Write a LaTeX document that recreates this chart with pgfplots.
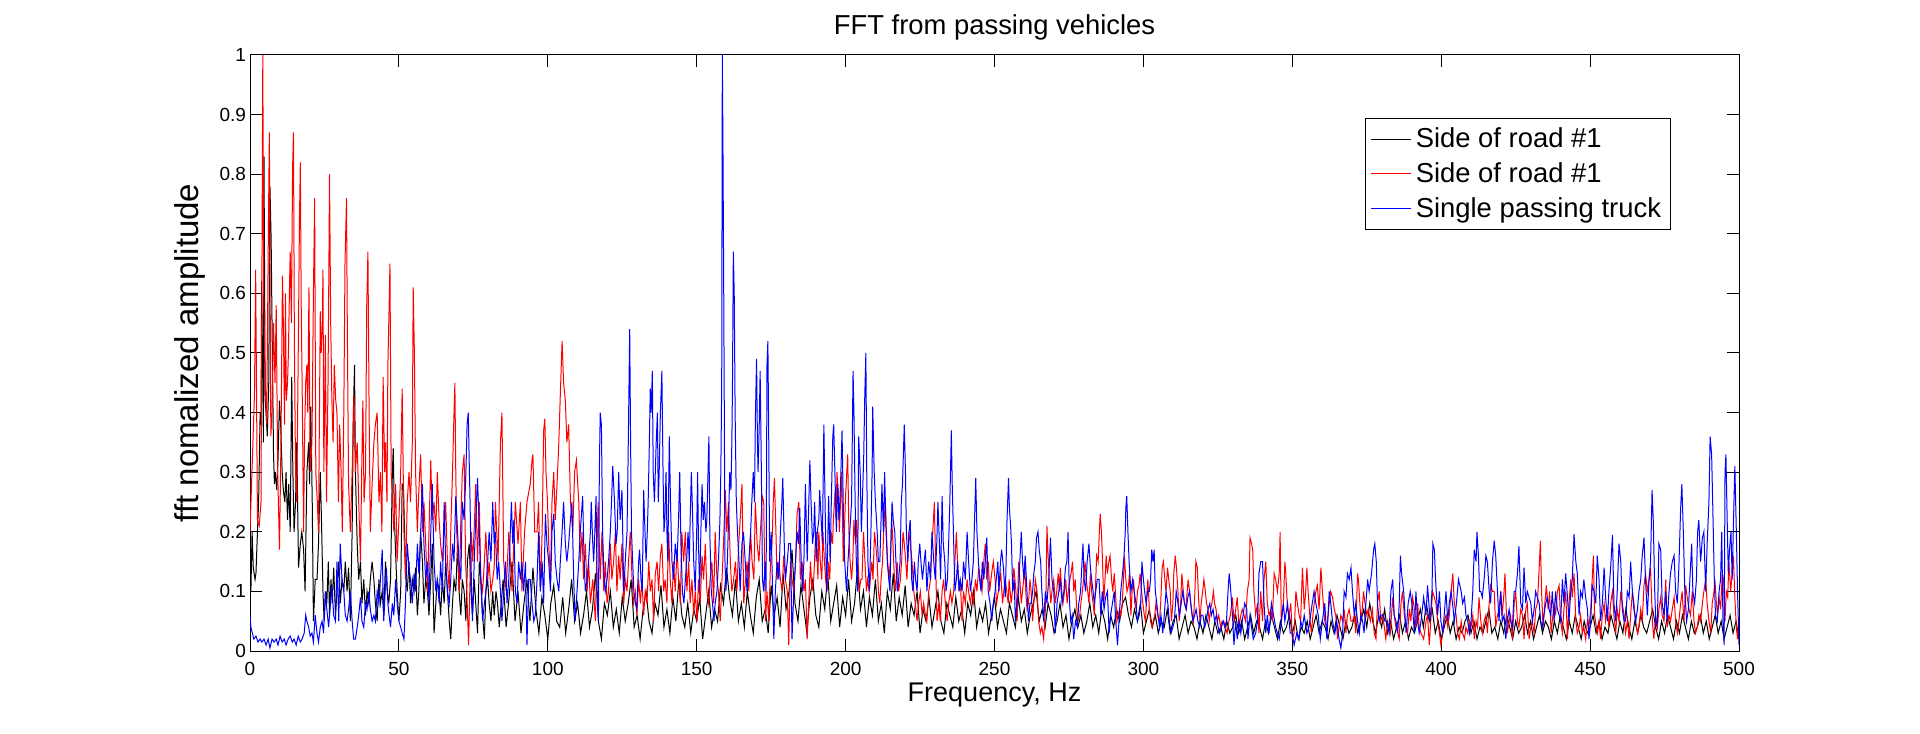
\documentclass[border=0pt]{standalone}
\usepackage{fontspec}
\setmainfont{Liberation Sans}
\usepackage{pgfplots}
\pgfplotsset{compat=1.18}
\begin{document}
\begin{tikzpicture}
\useasboundingbox (-125pt,-41pt) rectangle (835pt,325.5pt);
\begin{axis}[
  at={(0,0)}, anchor=south west,
  scale only axis, width=744.5pt, height=298pt,
  xmin=0, xmax=500, ymin=0, ymax=1,
  xtick={0,50,100,150,200,250,300,350,400,450,500},
  ytick={0,0.1,0.2,0.3,0.4,0.5,0.6,0.7,0.8,0.9,1},
  yticklabels={0,0.1,0.2,0.3,0.4,0.5,0.6,0.7,0.8,0.9,1},
  tick pos=both, tick align=inside, major tick length=6pt,
  every tick/.style={black, line width=0.5pt},
  axis line style={line width=0.5pt},
  /pgf/number format/assume math mode=true,
  ticklabel style={font=\fontsize{9.5}{11}\selectfont},
  xticklabel style={yshift=-2pt},
  yticklabel style={xshift=1.5pt},
  every axis title shift=0pt,
  title={FFT from passing vehicles},
  title style={at={(0.5,1.047)}, anchor=center, font=\fontsize{13.7}{15}\selectfont},
  xlabel={Frequency, Hz},
  xlabel style={at={(0.5,-0.0738)}, anchor=center, font=\fontsize{13.5}{15}\selectfont},
  ylabel={fft nomalized amplitude},
  ylabel style={at={(-0.0403,0.5)}, anchor=center, font=\fontsize{16.5}{18}\selectfont},
  legend style={at={(0.954,0.894)}, anchor=north east, draw=black, line width=0.5pt,
    font=\fontsize{13.7}{16}\selectfont, row sep=2pt, inner sep=2.5pt},
  legend cell align=left,
  legend image code/.code={\draw[#1] (0cm,0cm) -- (0.7cm,0cm);},
  every axis plot/.append style={line width=0.5pt},
]
% Side of road #1 (black)
\addplot[black] coordinates {
(0,0.18)(0.3,0.10)(0.7,0.20)(1.1,0.14)(1.7,0.12)(2.0,0.13)(2.5,0.20)(2.9,0.25)(3.4,0.40)(3.7,0.38)(3.9,0.62)(4.3,0.45)(4.5,0.35)(4.7,0.83)(5.1,0.42)(5.4,0.40)(5.8,0.36)(6.3,0.45)(6.7,0.78)(7.1,0.69)(7.4,0.55)(7.9,0.33)(8.2,0.28)(8.5,0.30)(9.0,0.27)(9.4,0.32)(9.9,0.42)(10.3,0.38)(10.8,0.30)(11.2,0.27)(11.7,0.25)(12.1,0.30)(12.6,0.22)(13.0,0.28)(13.5,0.20)(14.0,0.46)(14.4,0.30)(14.8,0.20)(15.3,0.25)(15.7,0.35)(16.3,0.14)(16.9,0.18)(17.4,0.20)(18.0,0.17)(18.5,0.10)(19.1,0.30)(19.7,0.35)(20.0,0.28)(20.4,0.41)(20.9,0.25)(21.3,0.05)(21.9,0.12)(22.5,0.12)(23.0,0.18)(23.6,0.30)(24.0,0.22)(24.5,0.10)(24.9,0.05)(25.4,0.10)(25.8,0.08)(26.3,0.15)(26.7,0.06)(27.2,0.12)(27.6,0.08)(28.1,0.14)(28.7,0.06)(29.2,0.10)(29.8,0.15)(30.3,0.08)(30.9,0.12)(31.5,0.10)(32.0,0.15)(32.6,0.10)(33.1,0.14)(33.7,0.05)(34.3,0.20)(34.7,0.40)(35.1,0.48)(35.4,0.30)(36.0,0.18)(36.5,0.12)(37.1,0.15)(37.6,0.08)(38.2,0.12)(38.8,0.06)(39.3,0.10)(39.9,0.08)(40.4,0.12)(41.0,0.15)(41.6,0.12)(42.1,0.08)(42.7,0.05)(43.3,0.12)(43.8,0.08)(44.4,0.10)(44.9,0.06)(45.5,0.15)(46.1,0.10)(46.6,0.08)(47.2,0.12)(47.8,0.30)(48.1,0.34)(48.5,0.22)(49.0,0.15)(49.4,0.10)(50.0,0.05)(50.6,0.10)(51.1,0.28)(51.5,0.28)(51.9,0.20)(52.4,0.12)(52.8,0.10)(53.4,0.15)(53.9,0.08)(54.5,0.12)(55.1,0.10)(55.6,0.14)(56.2,0.06)(56.7,0.10)(57.3,0.20)(57.9,0.15)(58.4,0.08)(59.0,0.12)(59.6,0.10)(60.1,0.06)(60.7,0.12)(61.2,0.18)(61.8,0.03)(62.4,0.08)(62.9,0.12)(63.5,0.10)(64.0,0.06)(64.6,0.12)(65.2,0.08)(65.7,0.15)(66.3,0.10)(66.9,0.05)(67.4,0.02)(68.0,0.08)(68.5,0.12)(69.1,0.10)(69.7,0.18)(70.2,0.10)(70.8,0.06)(71.3,0.12)(71.9,0.10)(72.5,0.05)(73.0,0.15)(73.6,0.18)(74.2,0.10)(74.7,0.06)(75.3,0.12)(75.8,0.08)(76.4,0.03)(77.0,0.15)(77.5,0.12)(78.1,0.06)(78.7,0.02)(79.2,0.10)(79.8,0.12)(80.3,0.08)(80.9,0.05)(81.5,0.10)(82.0,0.06)(82.6,0.10)(83.1,0.08)(83.7,0.04)
(85,0.12)(86,0.04)(87,0.09)(88,0.15)(89,0.05)(90,0.10)(91,0.03)(92,0.08)(93,0.12)(94,0.05)(95,0.14)(96,0.07)(97,0.03)(98,0.09)(99,0.06)(100,0.02)(101,0.08)(102,0.11)(103,0.05)(104,0.04)(105,0.09)(106,0.03)(107,0.07)(108,0.12)(109,0.05)(110,0.08)(111,0.03)(112,0.06)(113,0.10)(114,0.04)(115,0.07)(116,0.13)(117,0.05)(118,0.02)(119,0.08)(120,0.06)(121,0.10)(122,0.04)(123,0.07)(124,0.03)(125,0.09)(126,0.05)(127,0.08)(128,0.12)(129,0.04)(130,0.06)(131,0.02)(132,0.07)(133,0.10)(134,0.05)(135,0.03)(136,0.08)(137,0.06)(138,0.11)(139,0.04)(140,0.07)(141,0.03)(142,0.09)(143,0.05)(144,0.12)(145,0.06)(146,0.04)(147,0.08)(148,0.03)(149,0.07)(150,0.05)(151,0.09)(152,0.02)(153,0.06)(154,0.10)(155,0.04)(156,0.07)(157,0.05)(158,0.11)(159,0.08)(160,0.14)(161,0.09)(162,0.06)(163,0.12)(164,0.05)(165,0.08)(166,0.04)(167,0.10)(168,0.06)(169,0.03)(170,0.09)(171,0.12)(172,0.05)(173,0.07)(174,0.03)(175,0.11)(176,0.06)(177,0.09)(178,0.04)(179,0.13)(180,0.07)(181,0.10)(182,0.17)(183,0.08)(184,0.05)(185,0.11)(186,0.07)(187,0.03)(188,0.09)(189,0.12)(190,0.06)(191,0.04)(192,0.10)(193,0.07)(194,0.13)(195,0.05)(196,0.08)(197,0.11)(198,0.04)(199,0.09)(200,0.06)(201,0.12)(202,0.05)(203,0.08)(204,0.14)(205,0.07)(206,0.10)(207,0.04)(208,0.09)(209,0.06)(210,0.12)(211,0.05)(212,0.08)(213,0.03)(214,0.10)(215,0.07)(216,0.13)(217,0.05)(218,0.09)(219,0.06)(220,0.11)(221,0.04)(222,0.08)(223,0.06)(224,0.10)(225,0.03)(226,0.07)(227,0.05)(228,0.09)(229,0.04)(230,0.07)(231,0.10)(232,0.05)(233,0.03)(234,0.08)(235,0.06)(236,0.04)(237,0.09)(238,0.05)(239,0.07)(240,0.03)(241,0.08)(242,0.06)(243,0.10)(244,0.04)(245,0.07)(246,0.05)(247,0.08)(248,0.03)(249,0.06)(250,0.09)(251,0.04)(252,0.07)(253,0.05)(254,0.03)(255,0.08)(256,0.06)(257,0.04)(258,0.09)(259,0.05)(260,0.07)(261,0.03)(262,0.06)(263,0.08)(264,0.10)(265,0.05)(266,0.07)(267,0.04)(268,0.08)(269,0.06)(270,0.03)(271,0.05)(272,0.08)(273,0.04)(274,0.06)(275,0.02)(276,0.05)(277,0.07)(278,0.04)(279,0.06)(280,0.03)(281,0.05)(282,0.08)(283,0.04)(284,0.06)(285,0.03)(286,0.07)(287,0.05)(288,0.02)(289,0.06)(290,0.04)(291,0.07)(292,0.05)(293,0.08)(294,0.09)(295,0.06)(296,0.04)(297,0.07)(298,0.05)(299,0.08)(300,0.03)(301,0.05)(302,0.07)(303,0.04)(304,0.06)(305,0.03)(306,0.05)(307,0.04)(308,0.07)(309,0.03)(310,0.05)(311,0.06)(312,0.02)(313,0.04)(314,0.06)(315,0.03)(316,0.05)(317,0.04)(318,0.02)(319,0.05)(320,0.03)(321,0.06)(322,0.04)(323,0.02)(324,0.05)(325,0.03)(326,0.04)(327,0.02)(328,0.05)(329,0.03)(330,0.04)(331,0.06)(332,0.03)(333,0.05)(334,0.02)(335,0.04)(336,0.06)(337,0.03)(338,0.05)(339,0.04)(340,0.02)(341,0.05)(342,0.03)(343,0.06)(344,0.04)(345,0.02)(346,0.05)(347,0.03)(348,0.04)(349,0.06)(350,0.03)(351,0.05)(352,0.02)(353,0.04)(354,0.03)(355,0.05)(356,0.02)(357,0.04)(358,0.06)(359,0.03)(360,0.05)(361,0.04)(362,0.02)(363,0.05)(364,0.03)(365,0.06)(366,0.04)(367,0.02)(368,0.05)(369,0.03)(370,0.04)(371,0.06)(372,0.03)(373,0.05)(374,0.07)(375,0.04)(376,0.08)(377,0.05)(378,0.03)(379,0.06)(380,0.04)(381,0.07)(382,0.03)(383,0.05)(384,0.02)(385,0.04)(386,0.06)(387,0.03)(388,0.05)(389,0.02)(390,0.04)(391,0.03)(392,0.05)(393,0.07)(394,0.04)(395,0.08)(396,0.05)(397,0.07)(398,0.03)(399,0.05)(400,0.02)(401,0.04)(402,0.06)(403,0.03)(404,0.05)(405,0.02)(406,0.04)(407,0.03)(408,0.05)(409,0.06)(410,0.03)(411,0.05)(412,0.02)(413,0.04)(414,0.03)(415,0.05)(416,0.07)(417,0.03)(418,0.04)(419,0.02)(420,0.05)(421,0.03)(422,0.06)(423,0.04)(424,0.02)(425,0.05)(426,0.03)(427,0.04)(428,0.06)(429,0.03)(430,0.05)(431,0.02)(432,0.04)(433,0.06)(434,0.03)(435,0.05)(436,0.04)(437,0.02)(438,0.05)(439,0.03)(440,0.06)(441,0.04)(442,0.02)(443,0.05)(444,0.03)(445,0.06)(446,0.04)(447,0.02)(448,0.05)(449,0.03)(450,0.04)(451,0.06)(452,0.03)(453,0.05)(454,0.02)(455,0.04)(456,0.03)(457,0.06)(458,0.04)(459,0.02)(460,0.05)(461,0.03)(462,0.07)(463,0.04)(464,0.02)(465,0.05)(466,0.03)(467,0.06)(468,0.04)(469,0.03)(470,0.05)(471,0.07)(472,0.04)(473,0.02)(474,0.05)(475,0.03)(476,0.06)(477,0.04)(478,0.02)(479,0.05)(480,0.03)(481,0.06)(482,0.04)(483,0.02)(484,0.05)(485,0.03)(486,0.04)(487,0.06)(488,0.03)(489,0.05)(490,0.02)(491,0.04)(492,0.06)(493,0.03)(494,0.05)(495,0.02)(496,0.04)(497,0.06)(498,0.03)(499,0.05)(500,0.02)
};
\addlegendentry{Side of road \#1}
% Side of road #1 (red)
\addplot[red] coordinates {
(0,0.20)(1.5,0.43)(1.9,0.64)(2.5,0.22)(3.1,0.21)(3.7,0.25)(3.9,0.50)(4.3,1.00)(4.6,0.60)(5.1,0.45)(5.6,0.38)(6.2,0.72)(6.5,0.87)(7.0,0.36)(7.4,0.40)(7.9,0.55)(8.4,0.45)(8.8,0.58)(9.3,0.30)(9.9,0.17)(10.4,0.35)(10.9,0.63)(11.2,0.55)(11.6,0.38)(11.9,0.60)(12.2,0.42)(12.6,0.45)(12.9,0.50)(13.3,0.62)(13.5,0.67)(13.9,0.55)(14.3,0.81)(14.6,0.87)(14.9,0.52)(15.3,0.30)(15.7,0.25)(16.3,0.55)(16.6,0.72)(16.9,0.82)(17.2,0.58)(17.5,0.45)(18.0,0.20)(18.3,0.35)(18.7,0.45)(19.1,0.48)(19.4,0.40)(19.8,0.61)(20.2,0.30)(20.8,0.35)(21.3,0.60)(21.7,0.76)(22.1,0.30)(22.6,0.25)(23.0,0.20)(23.6,0.57)(23.9,0.50)(24.3,0.55)(24.5,0.64)(24.8,0.30)(25.3,0.53)(25.7,0.25)(26.2,0.45)(26.5,0.65)(26.7,0.80)(27.1,0.55)(27.5,0.42)(27.9,0.35)(28.3,0.48)(28.8,0.42)(29.2,0.40)(29.7,0.25)(30.1,0.38)(30.6,0.30)(31.0,0.20)(31.5,0.40)(31.9,0.65)(32.4,0.76)(32.7,0.53)(33.1,0.28)(33.7,0.20)(34.3,0.30)(34.9,0.43)(35.4,0.30)(36.0,0.35)(36.5,0.25)(37.1,0.15)(37.5,0.30)(37.9,0.42)(38.3,0.25)(38.8,0.30)(39.2,0.58)(39.6,0.67)(40.0,0.40)(40.4,0.20)(41.0,0.28)(41.6,0.35)(42.1,0.38)(42.7,0.40)(43.3,0.25)(43.8,0.30)(44.3,0.20)(44.7,0.46)(45.2,0.30)(45.5,0.35)(46.0,0.25)(46.3,0.48)(46.6,0.55)(47.0,0.65)(47.4,0.30)(47.9,0.25)(48.3,0.20)(48.9,0.28)(49.4,0.15)(50.0,0.22)(50.6,0.30)(51.1,0.44)(51.7,0.20)(52.2,0.12)(52.8,0.25)(53.4,0.30)(53.9,0.25)(54.5,0.35)(54.8,0.61)(55.2,0.50)(55.6,0.30)(56.2,0.20)(56.7,0.27)(57.3,0.33)(57.9,0.20)(58.4,0.25)(59.0,0.18)(59.6,0.10)(60.1,0.20)(60.7,0.32)(61.2,0.22)(61.8,0.25)(62.4,0.20)(62.9,0.30)(63.5,0.22)(64.0,0.18)(64.6,0.15)(65.2,0.20)(65.7,0.25)(66.3,0.15)(66.9,0.10)(67.4,0.20)(68.0,0.30)(68.4,0.38)(68.8,0.45)(69.1,0.30)(69.4,0.20)(69.9,0.15)(70.3,0.10)(70.8,0.22)(71.3,0.30)(71.9,0.33)(72.4,0.15)(72.8,0.10)(73.4,0.01)(73.8,0.10)(74.3,0.20)(74.8,0.15)(75.4,0.22)(75.8,0.28)(76.4,0.15)(77.0,0.25)(77.5,0.12)(78.1,0.10)(78.7,0.15)(79.2,0.20)(79.8,0.12)(80.3,0.15)(80.9,0.10)(81.5,0.12)(82.0,0.14)
(82.4,0.25)(83.3,0.15)(84.1,0.35)(84.6,0.40)(85.2,0.15)(86.0,0.10)(86.9,0.20)(88.0,0.10)(89.1,0.25)(90.0,0.18)(90.8,0.25)(91.3,0.10)(92.2,0.20)(93.0,0.25)(94.1,0.28)(94.7,0.32)(95.0,0.33)(95.6,0.20)(96.4,0.20)(96.9,0.25)(97.5,0.10)(98.1,0.20)(98.6,0.37)(99.0,0.39)(99.4,0.30)(99.9,0.25)(100.3,0.18)(100.9,0.12)(101.4,0.25)(102.0,0.30)(102.5,0.22)(103.1,0.28)(103.7,0.35)(104.2,0.43)(104.8,0.52)(105.3,0.45)(105.9,0.42)(106.4,0.35)(107.0,0.38)(107.6,0.25)(108.4,0.20)(109.0,0.30)(109.6,0.32)(110.4,0.25)(110.9,0.15)(111.5,0.20)(112.0,0.12)(112.6,0.18)(113.2,0.10)(113.7,0.15)(114.3,0.08)(115.1,0.12)(116.0,0.05)(116.4,0.15)(116.9,0.25)(117.6,0.12)(118.2,0.20)(118.8,0.10)(119.3,0.15)(119.9,0.08)(120.4,0.10)(121.0,0.18)(121.5,0.12)(122.1,0.15)(122.7,0.20)(123.2,0.10)(123.8,0.16)(124.3,0.12)(124.9,0.18)(125.5,0.08)(126.0,0.12)(126.6,0.10)(127.1,0.15)(127.7,0.20)(128.3,0.12)(128.8,0.08)(129.4,0.10)(129.9,0.06)(130.5,0.12)(131.1,0.08)(131.6,0.12)(132.2,0.06)(132.7,0.10)(133.3,0.08)(133.9,0.15)(134.4,0.10)(135.0,0.12)(135.5,0.05)(136.1,0.13)(136.7,0.15)(137.2,0.10)(137.8,0.16)(138.3,0.18)(138.9,0.10)(139.4,0.12)(140.0,0.08)(140.6,0.20)(141.1,0.12)(141.7,0.08)(142.2,0.15)(142.8,0.10)(143.4,0.17)(143.9,0.12)(144.5,0.08)(145.0,0.20)(145.6,0.15)(146.2,0.20)(146.7,0.10)(147.3,0.15)(147.8,0.08)(148.4,0.12)(149.0,0.06)(149.5,0.10)(150.1,0.05)(150.6,0.12)(151.2,0.08)(151.8,0.16)(152.3,0.12)(152.9,0.18)(153.4,0.10)(154.0,0.08)(154.5,0.12)(155.1,0.15)(155.7,0.08)(156.2,0.20)(156.8,0.12)(157.3,0.10)(157.9,0.05)(158.5,0.12)(159.0,0.18)(159.6,0.27)(160.1,0.20)(160.7,0.25)(161.3,0.15)(161.8,0.10)(162.4,0.12)(163.0,0.15)(163.5,0.10)(164.1,0.18)(164.6,0.22)(165.2,0.28)
(165.8,0.08)(166.4,0.12)(166.9,0.15)(167.5,0.10)(168.1,0.20)(168.6,0.15)(169.2,0.12)(169.7,0.25)(170.3,0.18)(170.9,0.15)(171.4,0.20)(172.0,0.26)(172.5,0.25)(173.1,0.05)(173.6,0.10)(174.2,0.05)(174.8,0.15)(175.3,0.18)(175.7,0.25)(176.1,0.29)(176.6,0.20)(177.0,0.12)(177.6,0.15)(178.1,0.12)(178.7,0.10)(179.2,0.16)(179.8,0.12)(180.4,0.10)(180.9,0.01)(181.5,0.15)(182.0,0.12)(182.6,0.10)(183.2,0.15)(183.7,0.23)(184.3,0.25)(184.8,0.12)(185.4,0.15)(186.0,0.10)(186.5,0.12)(187.1,0.02)(187.6,0.08)(188.2,0.15)(188.7,0.10)(189.3,0.12)(189.8,0.18)(190.2,0.20)(190.7,0.12)(191.0,0.20)(191.5,0.15)(192.0,0.12)(192.4,0.20)(192.9,0.15)(193.3,0.12)(193.8,0.10)(194.2,0.15)(194.7,0.12)(195.1,0.20)(195.6,0.18)(195.9,0.22)(196.5,0.27)(196.8,0.22)(197.1,0.30)(197.5,0.26)(197.9,0.20)(198.3,0.25)(198.7,0.30)(199.2,0.15)(199.6,0.20)(199.9,0.25)(200.3,0.29)(200.7,0.33)(201.1,0.20)(201.5,0.15)(202.0,0.12)(202.4,0.15)(202.8,0.22)(203.3,0.18)(203.7,0.22)(204.2,0.15)(204.6,0.10)(205.1,0.12)(205.5,0.12)(206.0,0.20)(206.5,0.15)(207.0,0.10)(207.4,0.12)(207.9,0.10)(208.3,0.12)(208.8,0.15)(209.2,0.12)(209.7,0.20)(210.1,0.18)(210.6,0.15)(211.0,0.10)(211.5,0.08)(211.9,0.12)(212.4,0.15)(212.8,0.20)(213.3,0.25)(213.7,0.20)(214.1,0.15)(214.6,0.12)(215.0,0.15)(215.5,0.22)(215.9,0.18)(216.4,0.12)(216.8,0.10)(217.3,0.15)(217.8,0.10)(218.4,0.12)(218.8,0.15)(219.3,0.20)(219.7,0.18)(220.2,0.15)(220.6,0.12)(221.2,0.20)(221.7,0.18)(222.3,0.15)(222.9,0.10)(223.4,0.08)(224.0,0.05)(224.5,0.08)(225.1,0.10)(225.7,0.06)(226.2,0.08)(226.8,0.06)(227.3,0.05)(227.9,0.10)(228.5,0.12)(229.0,0.18)(229.5,0.22)(229.8,0.25)(230.2,0.15)(230.7,0.05)(231.3,0.08)(231.8,0.05)(232.4,0.10)(232.9,0.12)(233.5,0.08)(234.1,0.05)(234.6,0.08)(235.2,0.10)(235.7,0.08)(236.3,0.10)(236.7,0.15)(237.2,0.20)(237.6,0.15)(238.1,0.10)(238.5,0.12)(239.1,0.05)(239.6,0.10)(240.2,0.08)(240.8,0.12)(241.3,0.10)(241.9,0.08)(242.4,0.10)(243.0,0.08)(243.6,0.12)(244.1,0.10)(244.7,0.14)(245.2,0.12)(245.8,0.10)(246.4,0.15)(246.9,0.18)
(247.4,0.12)(247.9,0.15)(248.4,0.10)(248.8,0.12)(249.3,0.14)(249.6,0.15)(250.2,0.12)(250.7,0.08)(251.3,0.10)(251.8,0.12)(252.1,0.13)(252.7,0.08)(253.1,0.10)(253.6,0.12)(254.1,0.10)(254.6,0.08)(254.9,0.12)(255.6,0.08)(256.0,0.10)(256.5,0.14)(257.2,0.10)(257.6,0.05)(258.1,0.15)(258.5,0.12)(259.0,0.08)(259.4,0.10)(259.8,0.12)(260.1,0.15)(260.5,0.10)(260.9,0.07)(261.4,0.08)(261.9,0.12)(262.3,0.10)(262.8,0.05)(263.2,0.08)(263.7,0.12)(264.3,0.10)(264.8,0.05)(265.4,0.03)(265.9,0.04)(266.5,0.02)(267.0,0.06)(267.3,0.10)(267.6,0.21)(268.0,0.16)(268.4,0.12)(268.9,0.08)(269.3,0.10)(269.9,0.12)(270.4,0.08)(270.9,0.10)(271.4,0.13)(271.8,0.10)(272.1,0.14)(272.6,0.10)(273.0,0.08)(273.5,0.10)(273.9,0.12)(274.4,0.08)(274.8,0.10)(275.3,0.12)(275.7,0.13)(276.2,0.15)(276.6,0.10)(277.1,0.12)(277.5,0.08)(278.0,0.05)(278.6,0.06)(279.0,0.08)(279.5,0.10)(279.9,0.12)(280.4,0.15)(280.8,0.12)(281.3,0.10)(281.7,0.08)(282.2,0.13)(282.6,0.10)(283.1,0.08)(283.5,0.06)(284.0,0.12)(284.3,0.16)(284.8,0.15)(285.2,0.20)(285.5,0.23)(285.9,0.20)(286.2,0.16)(286.7,0.08)(287.1,0.12)(287.5,0.16)(287.9,0.13)(288.4,0.15)(288.8,0.16)(289.3,0.12)(289.7,0.10)(290.2,0.13)(290.6,0.10)(291.1,0.05)(291.5,0.06)(292.0,0.07)(292.4,0.06)(292.9,0.08)(293.3,0.12)(293.6,0.16)(294.1,0.12)(294.5,0.10)(295.0,0.11)(295.3,0.13)(295.8,0.06)(296.2,0.10)(296.7,0.12)(297.1,0.08)(297.6,0.07)(298.0,0.10)(298.5,0.11)(298.9,0.13)(299.4,0.10)(299.8,0.08)(300.3,0.06)(300.7,0.05)(301.2,0.10)(301.5,0.12)(302.0,0.07)(302.4,0.05)(302.9,0.04)(303.3,0.05)(303.8,0.06)(304.2,0.08)(304.8,0.06)(305.4,0.05)(305.8,0.08)(306.3,0.14)(306.7,0.15)(307.2,0.12)(307.6,0.10)(308.1,0.14)(308.5,0.12)(309.0,0.10)(309.4,0.05)(309.9,0.08)(310.2,0.13)(310.7,0.16)(311.1,0.14)(311.6,0.10)(312.0,0.05)(312.5,0.08)(312.9,0.13)(313.4,0.10)(313.8,0.08)(314.3,0.07)(314.7,0.10)(315.0,0.12)(315.5,0.10)(315.9,0.08)(316.4,0.06)(316.8,0.05)(317.3,0.10)(317.6,0.15)(318.1,0.14)(318.5,0.09)(319.0,0.05)(319.4,0.08)(319.9,0.10)(320.3,0.12)(320.8,0.10)(321.2,0.08)(321.7,0.07)(322.1,0.05)(322.6,0.07)(323.0,0.08)(323.5,0.10)(323.9,0.08)(324.4,0.07)(324.8,0.05)(325.3,0.06)(325.9,0.04)(326.4,0.05)(327.0,0.05)(327.5,0.04)(328.1,0.03)(328.7,0.05)(329.2,0.06)
(329.9,0.09)(330.4,0.05)(331.0,0.07)(331.5,0.09)(332.1,0.04)(332.7,0.06)(333.2,0.07)(333.8,0.06)(334.3,0.05)(334.9,0.10)(335.5,0.12)(335.8,0.19)(336.3,0.18)(336.7,0.17)(337.1,0.10)(337.7,0.06)(338.3,0.08)(338.8,0.03)(339.4,0.10)(340.0,0.05)(340.5,0.12)(341.1,0.15)(341.6,0.08)(342.2,0.06)(342.8,0.07)(343.3,0.05)(343.9,0.13)(344.4,0.12)(345.0,0.10)(345.6,0.13)(345.9,0.20)(346.3,0.05)(347.0,0.08)(347.5,0.15)(347.8,0.13)(348.4,0.07)(348.9,0.06)(349.5,0.08)(350.0,0.02)(350.6,0.03)(351.2,0.10)(351.7,0.08)(352.3,0.06)(352.8,0.05)(353.4,0.14)(354.0,0.07)(354.5,0.10)(354.9,0.14)(355.3,0.10)(356.0,0.05)(356.4,0.03)(357.1,0.07)(357.9,0.10)(358.4,0.11)(359.0,0.07)(359.6,0.14)(360.1,0.10)(360.9,0.05)(361.6,0.04)(362.4,0.08)(362.9,0.10)(363.5,0.09)(364.1,0.07)(364.6,0.06)(365.2,0.02)(365.7,0.04)(366.3,0.06)(366.9,0.05)(367.4,0.07)(368.0,0.03)(368.5,0.06)(369.1,0.07)(369.7,0.05)(370.2,0.05)(370.8,0.06)(371.3,0.03)(371.9,0.13)(372.2,0.12)(372.8,0.07)(373.2,0.05)(373.9,0.10)(374.4,0.08)(375.0,0.06)(375.5,0.07)(376.2,0.05)(376.9,0.07)(377.5,0.03)(378.1,0.02)(378.6,0.08)(379.2,0.10)(379.7,0.05)(380.3,0.06)(380.9,0.04)(381.4,0.02)(382.0,0.05)(382.9,0.03)(383.7,0.09)(384.2,0.06)(384.8,0.04)(385.4,0.03)(385.9,0.02)(386.5,0.08)(387.0,0.10)(387.6,0.06)(388.2,0.04)(388.7,0.03)(389.3,0.07)(389.8,0.05)(390.4,0.09)(391.0,0.07)(391.5,0.04)(392.1,0.08)(392.6,0.04)(393.2,0.03)(394.1,0.02)(394.9,0.05)(395.4,0.06)(396.0,0.01)(396.6,0.06)(397.1,0.10)(397.7,0.09)(398.2,0.08)(398.8,0.05)(399.4,0.03)(399.9,0.01)(400.5,0.03)(401.0,0.05)(401.6,0.06)(402.2,0.04)(402.7,0.06)(403.3,0.10)(403.9,0.13)(404.4,0.08)(405.0,0.06)(405.5,0.03)(406.1,0.02)(406.7,0.05)(407.2,0.03)(407.8,0.02)(408.3,0.04)(408.9,0.03)(409.5,0.05)(410.0,0.04)(410.6,0.06)(411.1,0.02)(411.7,0.05)
(412.2,0.04)(412.7,0.09)(413.3,0.05)(413.8,0.03)(414.4,0.05)(415.0,0.06)(415.5,0.03)(416.1,0.08)(416.6,0.11)(417.2,0.10)(417.8,0.10)(418.3,0.04)(418.9,0.06)(419.4,0.07)(420.0,0.10)(420.5,0.06)(421.1,0.10)(421.4,0.13)(421.9,0.06)(422.2,0.03)(422.8,0.05)(423.3,0.06)(423.9,0.02)(424.5,0.08)(425.0,0.10)(425.6,0.05)(426.1,0.04)(426.7,0.07)(427.3,0.06)(427.8,0.02)(428.4,0.07)(428.9,0.08)(429.5,0.02)(430.1,0.04)(430.6,0.05)(431.2,0.03)(431.7,0.07)(432.3,0.08)(432.9,0.14)(433.3,0.185)(433.7,0.10)(434.2,0.04)(434.8,0.08)(435.3,0.11)(435.9,0.07)(436.4,0.10)(436.9,0.03)(437.3,0.05)(437.9,0.08)(438.4,0.06)(439.0,0.10)(439.6,0.11)(440.1,0.05)(440.7,0.03)(441.2,0.07)(441.8,0.10)(442.4,0.02)(442.9,0.08)(443.5,0.12)(444.0,0.09)(444.6,0.13)(445.2,0.05)(445.7,0.03)(446.3,0.04)(446.8,0.06)(447.4,0.03)(447.9,0.04)(448.5,0.02)(449.1,0.05)(449.6,0.04)(450.2,0.07)(450.7,0.12)(451.1,0.16)(451.5,0.06)(452.1,0.04)(452.5,0.03)(453.0,0.05)(453.5,0.02)(454.1,0.06)(454.7,0.08)(455.2,0.05)(455.8,0.07)(456.3,0.04)(456.9,0.08)(457.5,0.10)(458.0,0.06)(458.6,0.03)(459.1,0.07)(459.7,0.05)(460.3,0.10)(460.8,0.08)(461.4,0.06)(461.9,0.03)(462.5,0.05)(463.1,0.02)(463.6,0.06)(464.2,0.10)(464.7,0.08)(465.3,0.05)(465.9,0.03)(466.4,0.04)(467.0,0.07)(467.5,0.05)(468.1,0.11)(468.6,0.13)(469.2,0.10)(469.8,0.12)(470.3,0.14)(470.9,0.05)(471.4,0.02)(472.0,0.06)(472.6,0.04)(473.1,0.07)(473.7,0.09)(474.2,0.06)(474.8,0.05)(475.4,0.12)(475.9,0.04)(476.5,0.06)(477.0,0.05)(477.6,0.07)(478.2,0.09)(478.7,0.05)(479.3,0.03)(479.8,0.05)(480.4,0.08)(480.9,0.10)(481.5,0.05)(482.1,0.11)(482.6,0.09)(483.2,0.07)(483.7,0.06)(484.3,0.10)(484.9,0.05)(485.4,0.03)(486.0,0.04)(486.5,0.06)(487.1,0.05)(487.7,0.08)(488.2,0.10)(488.8,0.12)(489.3,0.08)(489.9,0.05)(490.5,0.03)(491.0,0.08)(491.6,0.10)(491.9,0.12)(492.4,0.08)(492.8,0.06)(493.3,0.09)(493.8,0.07)(494.4,0.13)(494.8,0.12)(495.3,0.05)(495.7,0.10)(496.2,0.09)(496.6,0.15)(497.2,0.10)(497.7,0.13)(498.1,0.16)(498.6,0.09)(499.1,0.04)(499.5,0.02)(500.0,0.05)
};
\addlegendentry{Side of road \#1}
% Single passing truck (blue)
\addplot[blue] coordinates {
(0,0.06)(0.3,0.04)(0.8,0.03)(1.3,0.02)(2.0,0.025)(2.7,0.015)(3.4,0.02)(4.0,0.015)(4.7,0.02)(5.4,0.01)(6.1,0.02)(6.7,0.005)(7.4,0.02)(8.1,0.015)(8.8,0.02)(9.4,0.01)(10.1,0.025)(10.8,0.015)(11.5,0.02)(12.1,0.01)(12.8,0.02)(13.5,0.025)(14.2,0.015)(14.8,0.02)(15.5,0.01)(16.2,0.025)(16.9,0.015)(17.5,0.02)(18.2,0.03)(18.7,0.06)(19.1,0.05)(19.7,0.04)(20.2,0.025)(20.8,0.03)(21.3,0.015)(21.9,0.06)(22.5,0.03)(23.0,0.015)(23.6,0.04)(24.2,0.05)(24.7,0.03)(25.3,0.10)(25.8,0.07)(26.4,0.04)(27.0,0.08)(27.5,0.11)(28.1,0.06)(28.7,0.05)(29.2,0.15)(29.8,0.05)(30.3,0.18)(30.9,0.12)(31.5,0.10)(32.0,0.06)(32.6,0.05)(33.1,0.07)(33.7,0.10)(34.3,0.05)(34.8,0.02)(35.4,0.02)(36.0,0.04)(36.5,0.06)(37.1,0.09)(37.6,0.05)(38.2,0.04)(38.8,0.08)(39.3,0.07)(39.9,0.10)(40.4,0.07)(41.0,0.05)(41.6,0.06)(42.1,0.05)(42.7,0.10)(43.3,0.08)(43.8,0.12)(44.4,0.17)(44.9,0.05)(45.4,0.10)(45.8,0.14)(46.3,0.08)(46.7,0.06)(47.2,0.04)(47.8,0.08)(48.3,0.06)(48.9,0.12)(49.4,0.08)(50.0,0.05)(50.6,0.04)(51.1,0.03)(51.7,0.02)(52.2,0.08)(52.8,0.18)(53.4,0.14)(53.9,0.12)(54.5,0.08)(55.1,0.13)(55.6,0.10)(56.2,0.18)(56.7,0.13)(57.3,0.20)(57.9,0.28)(58.4,0.18)(59.0,0.12)(59.6,0.15)(60.1,0.08)(60.7,0.20)(61.2,0.28)(61.8,0.15)(62.4,0.10)(62.9,0.12)(63.5,0.08)(64.0,0.15)(64.6,0.10)(65.2,0.25)(65.7,0.15)(66.3,0.10)(66.9,0.08)(67.4,0.12)(68.0,0.18)(68.5,0.15)(69.1,0.26)(69.7,0.20)(70.2,0.15)(70.8,0.12)(71.3,0.25)(71.9,0.22)(72.5,0.30)(72.9,0.38)(73.3,0.40)(73.6,0.32)(73.9,0.25)(74.4,0.10)(74.7,0.05)(75.3,0.15)(75.8,0.22)(76.4,0.29)(77.0,0.20)(77.5,0.12)(78.1,0.05)(78.7,0.08)(79.2,0.10)(79.8,0.15)(80.3,0.20)(80.9,0.15)(81.5,0.25)(82.0,0.18)
(82.4,0.20)(83.0,0.12)(83.5,0.15)(84.1,0.10)(84.6,0.05)(85.2,0.10)(85.8,0.15)(86.3,0.08)(86.9,0.12)(87.4,0.20)(87.8,0.25)(88.2,0.18)(88.6,0.22)(89.1,0.10)(89.7,0.08)(90.2,0.15)(90.8,0.12)(91.3,0.15)(91.9,0.10)(92.5,0.15)(93.0,0.01)(93.6,0.12)(94.1,0.12)(94.7,0.08)(95.3,0.05)(95.8,0.06)(96.4,0.12)(96.9,0.20)(97.5,0.10)(98.1,0.15)(98.6,0.08)(99.2,0.23)(99.7,0.18)(100.3,0.15)(100.9,0.10)(101.4,0.20)(102.0,0.23)(102.5,0.15)(103.1,0.12)(103.7,0.10)(104.2,0.15)(104.8,0.20)(105.3,0.25)(105.9,0.18)(106.4,0.15)(107.0,0.18)(107.6,0.22)(108.1,0.25)(108.7,0.12)(109.2,0.05)(109.8,0.10)(110.4,0.15)(110.9,0.20)(111.7,0.26)(112.2,0.15)(112.6,0.10)(113.2,0.12)(113.7,0.15)(114.3,0.20)(114.6,0.25)(115.1,0.18)(115.4,0.15)(115.8,0.20)(116.2,0.26)(116.6,0.10)(117.0,0.05)(117.3,0.30)(117.6,0.40)(118.0,0.38)(118.4,0.20)(118.9,0.12)(119.3,0.10)(119.9,0.12)(120.4,0.15)(121.0,0.20)(121.4,0.25)(121.8,0.31)(122.1,0.28)(122.4,0.25)(122.9,0.18)(123.3,0.20)(123.8,0.30)(124.3,0.22)(124.9,0.27)(125.5,0.10)(126.0,0.15)(126.6,0.20)(126.9,0.30)(127.1,0.38)(127.5,0.54)(127.8,0.35)(128.1,0.20)(128.5,0.15)(128.9,0.10)(129.4,0.08)(129.9,0.07)(130.5,0.15)(130.8,0.17)(131.3,0.12)(131.7,0.10)(132.2,0.27)(132.5,0.22)(133.0,0.15)(133.4,0.20)(133.7,0.25)(134.1,0.35)(134.4,0.44)(134.7,0.40)(135.1,0.47)(135.4,0.30)(135.8,0.25)(136.1,0.30)(136.4,0.35)(136.8,0.40)(137.1,0.25)(137.4,0.30)(137.8,0.40)(138.1,0.44)(138.3,0.47)(138.7,0.30)(139.0,0.20)(139.3,0.22)(139.7,0.30)(140.0,0.20)(140.3,0.15)(140.8,0.36)(141.2,0.25)(141.7,0.15)(142.2,0.12)(142.8,0.18)(143.4,0.15)(143.9,0.22)(144.3,0.30)(144.7,0.18)(145.2,0.10)(145.7,0.08)(146.2,0.12)(146.6,0.15)(147.1,0.20)(147.5,0.15)(147.8,0.22)(148.2,0.30)(148.5,0.25)(149.0,0.15)(149.5,0.10)(150.0,0.20)(150.3,0.30)(150.6,0.18)(151.0,0.10)(151.4,0.20)(151.8,0.28)(152.2,0.22)(152.6,0.25)(153.1,0.20)(153.4,0.22)(153.8,0.30)(154.1,0.36)(154.4,0.20)(154.9,0.10)(155.3,0.08)(155.8,0.05)(156.2,0.08)(156.8,0.10)(157.3,0.15)(157.8,0.22)(158.1,0.30)(158.4,0.45)(158.6,1.00)(158.8,0.86)(159.1,0.58)(159.5,0.15)(159.8,0.10)(160.3,0.15)(160.7,0.22)(161.1,0.30)(161.5,0.27)(161.8,0.35)(162.0,0.44)(162.3,0.67)(162.6,0.60)(162.9,0.40)(163.3,0.25)(163.7,0.20)(164.2,0.15)(164.6,0.10)(165.2,0.18)(165.7,0.20)
(166.9,0.10)(167.5,0.15)(168.1,0.20)(168.5,0.25)(169.0,0.30)(169.4,0.25)(169.7,0.39)(170.1,0.49)(170.4,0.35)(170.6,0.30)(171.0,0.38)(171.3,0.47)(171.6,0.35)(172.1,0.12)(172.5,0.10)(173.0,0.15)(173.3,0.10)(173.6,0.48)(173.9,0.52)(174.2,0.35)(174.5,0.15)(175.0,0.20)(175.4,0.12)(175.9,0.02)(176.4,0.10)(177.0,0.15)(177.6,0.12)(178.1,0.20)(178.6,0.25)(178.9,0.29)(179.4,0.18)(179.8,0.12)(180.4,0.15)(180.9,0.18)(181.5,0.18)(182.0,0.02)(182.6,0.10)(183.2,0.15)(183.7,0.20)(184.2,0.18)(184.6,0.24)(185.1,0.15)(185.5,0.10)(186.0,0.15)(186.5,0.28)(187.1,0.15)(187.5,0.22)(188.0,0.32)(188.4,0.25)(188.9,0.18)(189.3,0.20)(189.6,0.25)(190.1,0.15)(190.5,0.20)(191.0,0.22)(191.3,0.27)(191.8,0.22)(192.2,0.18)(192.7,0.38)(193.1,0.25)(193.6,0.10)(194.0,0.18)(194.3,0.26)(194.8,0.15)(195.2,0.25)(195.7,0.36)(196.0,0.38)(196.5,0.28)(196.9,0.20)(197.4,0.28)(197.8,0.22)(198.3,0.28)(198.8,0.37)(199.3,0.22)(199.7,0.15)(200.3,0.10)(200.8,0.15)(201.4,0.20)(202.0,0.25)(202.3,0.38)(202.5,0.47)(202.8,0.40)(203.2,0.25)(203.6,0.15)(204.0,0.10)(204.4,0.36)(204.9,0.30)(205.3,0.20)(205.8,0.28)(206.1,0.33)(206.4,0.42)(206.8,0.50)(207.1,0.30)(207.5,0.15)(208.0,0.10)(208.5,0.20)(208.9,0.30)(209.1,0.41)(209.6,0.30)(210.0,0.25)(210.6,0.20)(211.0,0.15)(211.5,0.15)(211.9,0.22)(212.2,0.28)(212.7,0.20)(213.1,0.30)(213.6,0.20)(214.0,0.15)(214.5,0.12)(214.9,0.10)(215.3,0.20)(215.6,0.25)(216.0,0.22)(216.5,0.20)(216.9,0.15)(217.4,0.10)(217.8,0.12)(218.3,0.15)(218.7,0.25)(219.1,0.28)(219.4,0.33)(219.7,0.38)(220.1,0.30)(220.4,0.20)(220.9,0.15)(221.3,0.20)(221.7,0.22)(222.2,0.12)(222.6,0.10)(223.1,0.15)(223.5,0.12)(224.0,0.10)(224.4,0.15)(224.9,0.18)(225.3,0.15)(225.8,0.12)(226.2,0.14)(226.8,0.17)(227.3,0.10)(227.9,0.15)(228.5,0.12)(229.0,0.20)(229.6,0.15)(230.1,0.12)(230.6,0.18)(231.0,0.25)(231.5,0.18)(231.9,0.12)(232.4,0.26)(232.8,0.18)(233.3,0.15)(233.7,0.10)(234.2,0.12)(234.6,0.18)(235.0,0.25)(235.3,0.32)(235.5,0.37)(235.8,0.28)(236.3,0.18)(236.7,0.10)(237.2,0.12)(237.6,0.15)(238.1,0.10)(238.5,0.12)(239.1,0.10)(239.6,0.15)(240.2,0.12)(240.8,0.20)(241.3,0.15)(241.9,0.10)(242.4,0.12)(242.9,0.15)(243.3,0.22)(243.7,0.29)(244.1,0.20)(244.6,0.15)(245.0,0.12)(245.5,0.10)(245.9,0.15)(246.4,0.12)(246.9,0.15)
(247.4,0.19)(247.9,0.10)(248.5,0.08)(249.1,0.05)(249.6,0.08)(250.2,0.10)(250.6,0.12)(251.1,0.15)(251.5,0.10)(252.0,0.15)(252.4,0.17)(253.0,0.14)(253.6,0.09)(253.9,0.15)(254.2,0.22)(254.7,0.29)(255.0,0.24)(255.4,0.21)(255.7,0.18)(256.1,0.10)(256.6,0.12)(257.0,0.05)(257.5,0.08)(258.1,0.10)(258.5,0.15)(259.0,0.20)(259.4,0.15)(259.9,0.12)(260.3,0.16)(260.9,0.10)(261.4,0.05)(261.9,0.08)(262.3,0.08)(262.8,0.10)(263.2,0.13)(263.7,0.15)(264.1,0.19)(264.6,0.20)(265.0,0.17)(265.5,0.15)(265.9,0.10)(266.5,0.05)(267.1,0.10)(267.6,0.08)(268.2,0.12)(268.8,0.19)(269.3,0.12)(269.9,0.10)(270.4,0.03)(271.0,0.08)(271.6,0.10)(272.1,0.12)(272.7,0.08)(273.3,0.10)(273.8,0.14)(274.3,0.15)(274.7,0.20)(275.2,0.08)(275.6,0.05)(276.1,0.06)(276.6,0.02)(277.2,0.05)(277.8,0.04)(278.3,0.08)(278.9,0.10)(279.3,0.14)(279.7,0.18)(280.1,0.12)(280.6,0.10)(281.1,0.15)(281.7,0.18)(282.2,0.14)(282.6,0.12)(283.1,0.10)(283.5,0.08)(284.0,0.10)(284.5,0.12)(285.1,0.12)(285.7,0.06)(286.2,0.10)(286.8,0.07)(287.3,0.09)(287.9,0.10)(288.5,0.03)(289.0,0.06)(289.6,0.08)(290.2,0.10)(290.7,0.05)(291.3,0.01)(291.8,0.05)(292.4,0.10)(293.0,0.13)(293.5,0.16)(293.9,0.20)(294.1,0.24)(294.4,0.26)(294.8,0.20)(295.2,0.15)(295.8,0.10)(296.4,0.12)(296.9,0.10)(297.5,0.08)(298.0,0.05)(298.6,0.06)(299.1,0.08)(299.5,0.15)(300.0,0.12)(300.4,0.10)(300.9,0.08)(301.4,0.10)(302.0,0.10)(302.4,0.12)(302.8,0.17)(303.2,0.15)(303.6,0.17)(304.0,0.10)(304.5,0.08)(304.9,0.06)(305.4,0.04)(305.9,0.06)(306.5,0.03)(307.0,0.06)(307.6,0.10)(308.2,0.08)(308.7,0.05)(309.3,0.03)(309.9,0.04)(310.4,0.05)(311.0,0.10)(311.6,0.08)(312.1,0.06)(312.7,0.08)(313.2,0.10)(313.8,0.08)(314.4,0.07)(314.9,0.09)(315.5,0.10)(316.1,0.07)(316.6,0.05)(317.2,0.06)(317.7,0.07)(318.3,0.05)(318.9,0.04)(319.4,0.06)(320.0,0.06)(320.6,0.04)(321.1,0.05)(321.7,0.07)(322.3,0.08)(322.8,0.06)(323.4,0.07)(323.9,0.05)(324.5,0.06)(325.1,0.04)(325.6,0.03)(326.2,0.04)(326.8,0.05)(327.3,0.04)(327.9,0.05)(328.3,0.09)(328.8,0.13)(329.2,0.11)
(329.9,0.06)(330.4,0.01)(331.0,0.05)(331.5,0.02)(332.1,0.05)(332.7,0.03)(333.2,0.05)(334.0,0.08)(334.7,0.07)(335.1,0.02)(335.8,0.06)(336.3,0.04)(336.9,0.02)(337.7,0.03)(338.3,0.05)(338.8,0.13)(339.4,0.15)(340.0,0.15)(340.5,0.08)(341.1,0.03)(341.6,0.06)(342.2,0.03)(343.0,0.08)(343.7,0.06)(344.4,0.04)(345.0,0.03)(345.6,0.02)(346.1,0.04)(347.0,0.08)(347.5,0.05)(348.4,0.08)(349.3,0.03)(350.0,0.03)(350.6,0.01)(351.5,0.03)(352.3,0.02)(352.8,0.05)(353.4,0.04)(354.0,0.06)(354.9,0.03)(355.6,0.04)(356.4,0.07)(357.3,0.10)(357.9,0.08)(358.7,0.06)(359.4,0.02)(360.1,0.05)(360.9,0.08)(361.6,0.02)(362.4,0.10)(362.9,0.08)(363.5,0.05)(364.3,0.03)(364.9,0.05)(365.7,0.02)(366.3,0.005)(366.9,0.03)(367.4,0.10)(368.0,0.09)(368.5,0.13)(369.1,0.12)(369.7,0.14)(370.2,0.10)(370.8,0.06)(371.3,0.08)(371.9,0.05)(372.5,0.03)(373.0,0.06)(373.6,0.05)(374.1,0.03)(374.7,0.08)(375.3,0.12)(375.8,0.10)(376.6,0.13)(377.3,0.17)(377.7,0.18)(378.2,0.15)(378.6,0.08)(379.2,0.05)(379.7,0.06)(380.6,0.06)(381.1,0.05)(381.8,0.05)(382.5,0.03)(383.1,0.10)(383.7,0.12)(384.2,0.06)(384.8,0.05)(385.4,0.03)(385.9,0.08)(386.3,0.16)(386.7,0.13)(387.4,0.10)(388.2,0.03)(388.9,0.08)(389.6,0.10)(390.4,0.07)(391.0,0.03)(391.5,0.10)(392.1,0.05)(392.6,0.03)(393.2,0.05)(394.1,0.09)(394.9,0.06)(395.4,0.11)(396.3,0.05)(396.9,0.10)(397.2,0.18)(397.7,0.17)(398.1,0.12)(398.8,0.06)(399.4,0.10)(399.9,0.05)(400.5,0.03)(401.0,0.06)(401.6,0.10)(402.2,0.05)(402.7,0.08)(403.3,0.10)(403.8,0.08)(404.4,0.05)(405.1,0.08)(405.8,0.12)(406.7,0.10)(407.2,0.08)(407.8,0.09)(408.3,0.06)(408.9,0.05)(409.5,0.03)(410.0,0.05)(410.6,0.10)(411.1,0.17)(411.7,0.15)(412.0,0.20)(412.5,0.16)(412.9,0.10)
(413.3,0.10)(413.8,0.09)(414.4,0.12)(415.0,0.16)(415.5,0.15)(416.1,0.10)(416.6,0.08)(417.2,0.15)(417.8,0.185)(418.3,0.16)(418.9,0.10)(419.4,0.05)(420.0,0.10)(420.5,0.05)(421.1,0.06)(421.7,0.02)(422.2,0.05)(422.8,0.07)(423.3,0.05)(423.9,0.04)(424.5,0.10)(425.0,0.10)(425.6,0.13)(426.1,0.176)(426.7,0.08)(427.3,0.07)(427.8,0.14)(428.4,0.08)(428.9,0.10)(429.5,0.09)(430.1,0.08)(430.6,0.05)(431.2,0.07)(431.7,0.10)(432.3,0.09)(432.9,0.08)(433.4,0.05)(434.0,0.04)(434.5,0.06)(435.1,0.08)(435.6,0.09)(436.2,0.07)(436.8,0.06)(437.3,0.10)(437.9,0.05)(438.4,0.10)(439.0,0.07)(439.6,0.06)(440.1,0.05)(440.7,0.12)(441.2,0.08)(441.8,0.13)(442.4,0.09)(442.9,0.05)(443.5,0.10)(444.0,0.12)(444.6,0.196)(445.2,0.15)(445.7,0.13)(446.3,0.06)(446.8,0.10)(447.4,0.09)(447.9,0.12)(448.5,0.09)(449.1,0.07)(449.6,0.02)(450.2,0.05)(450.7,0.11)(451.3,0.10)(451.9,0.08)(452.4,0.16)(453.0,0.12)(453.5,0.05)(454.1,0.08)(454.7,0.14)(455.2,0.09)(455.8,0.05)(456.3,0.10)(456.9,0.14)(457.5,0.195)(458.0,0.08)(458.6,0.05)(459.1,0.10)(459.7,0.18)(460.3,0.15)(460.8,0.07)(461.4,0.05)(461.9,0.05)(462.5,0.10)(463.1,0.09)(463.6,0.15)(464.2,0.10)(464.7,0.07)(465.3,0.05)(465.9,0.07)(466.4,0.10)(467.0,0.12)(467.5,0.16)(468.1,0.19)(468.6,0.12)(469.2,0.06)(469.8,0.12)(470.3,0.15)(470.8,0.27)(471.2,0.22)(471.7,0.10)(472.1,0.04)(472.6,0.05)(473.1,0.18)(473.7,0.17)(474.2,0.08)(474.8,0.06)(475.4,0.10)(475.9,0.05)(476.5,0.10)(477.0,0.13)(477.6,0.15)(478.2,0.16)(478.7,0.10)(479.3,0.08)(479.8,0.14)(480.4,0.24)(480.8,0.28)(481.3,0.20)(481.8,0.10)(482.4,0.05)(483.0,0.07)(483.5,0.12)(484.1,0.18)(484.5,0.10)(485.1,0.08)(485.7,0.12)(486.1,0.20)(486.5,0.22)(487.1,0.15)(487.7,0.19)(488.2,0.20)(488.8,0.10)(489.3,0.18)(489.9,0.25)(490.3,0.36)(490.8,0.33)(491.2,0.24)(491.7,0.12)(492.1,0.06)(492.7,0.05)(493.3,0.10)(493.8,0.12)(494.2,0.20)(494.6,0.05)(495.0,0.01)(495.3,0.30)(495.6,0.33)(496.1,0.20)(496.4,0.13)(496.8,0.17)(497.3,0.20)(497.7,0.12)(498.3,0.25)(498.6,0.31)(499.1,0.20)(499.5,0.10)(500.0,0.01)
};
\addlegendentry{Single passing truck}
\end{axis}
\end{tikzpicture}
\end{document}
